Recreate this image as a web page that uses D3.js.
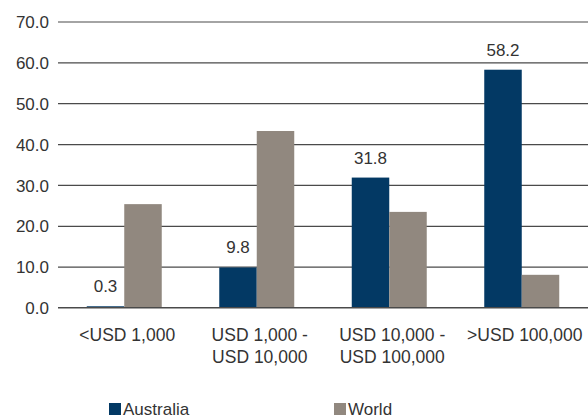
<!DOCTYPE html>
<meta charset="utf-8">
<style>
  body { margin: 0; background: #fff; }
  text { font-family: "Liberation Sans", Arial, sans-serif; fill: #333; }
  .grid line { stroke: #4a4a4a; stroke-width: 1.2; }
</style>
<svg width="588" height="416"></svg>
<script src="https://d3js.org/d3.v7.min.js"></script>
<script>
var categories = [["<USD 1,000"], ["USD 1,000 -", "USD 10,000"], ["USD 10,000 -", "USD 100,000"], [">USD 100,000"]];
var australia = [0.3, 9.8, 31.8, 58.2];
var world = [25.3, 43.2, 23.4, 8.0];
var ticks = [0, 10, 20, 30, 40, 50, 60, 70];
var seriesNames = ["Australia", "World"];
var colors = ["#033964", "#91887f"];

var svg = d3.select("svg");
var plotLeft = 58, plotRight = 588, plotTop = 21.5, plotBottom = 307.5;

var x = d3.scaleBand()
    .domain(d3.range(categories.length))
    .range([plotLeft, plotRight])
    .paddingInner(0.434)
    .paddingOuter(0.217);

var y = d3.scaleLinear().domain([0, 70]).range([plotBottom, plotTop]);

// gridlines + tick labels
var yAxis = svg.append("g")
    .attr("class", "grid")
    .attr("transform", "translate(" + plotLeft + ",0)")
    .call(d3.axisLeft(y).tickValues(ticks).tickSize(-(plotRight - plotLeft)).tickPadding(9)
      .tickFormat(function(d) { return d3.format(".1f")(d); }));
yAxis.select(".domain").remove();
yAxis.selectAll("text").attr("font-size", 17).attr("fill", "#333")
    .attr("font-family", "Liberation Sans, Arial, sans-serif")
    .attr("dy", "0.36em");

var bw = x.bandwidth() / 2;

svg.append("g").selectAll("rect")
    .data(australia)
    .enter()
    .append("rect")
    .attr("x", function(d, i) { return x(i); })
    .attr("y", function(d) { return y(d); })
    .attr("width", bw)
    .attr("height", function(d) { return y(0) - y(d); })
    .attr("fill", colors[0]);

svg.append("g").selectAll("rect")
    .data(world)
    .enter()
    .append("rect")
    .attr("x", function(d, i) { return x(i) + bw; })
    .attr("y", function(d) { return y(d); })
    .attr("width", bw)
    .attr("height", function(d) { return y(0) - y(d); })
    .attr("fill", colors[1]);

// baseline drawn over the bars
svg.append("line")
    .attr("x1", plotLeft).attr("x2", plotRight)
    .attr("y1", y(0)).attr("y2", y(0))
    .attr("stroke", "#4a4a4a").attr("stroke-width", 1.2);

// value labels on the Australia bars
svg.append("g").selectAll("text")
    .data(australia)
    .enter()
    .append("text")
    .attr("x", function(d, i) { return x(i) + bw / 2; })
    .attr("y", function(d) { return y(d) - 14; })
    .attr("text-anchor", "middle")
    .attr("font-size", 17)
    .text(function(d) { return d3.format(".1f")(d); });

// category labels
var cat = svg.append("g").selectAll("text")
    .data(categories)
    .enter()
    .append("text")
    .attr("text-anchor", "middle")
    .attr("font-size", 17.5)
    .attr("transform", function(d, i) { return "translate(" + (x(i) + x.bandwidth() / 2 + 3) + ",341)"; });
cat.selectAll("tspan")
    .data(function(d) { return d; })
    .enter()
    .append("tspan")
    .attr("x", 0)
    .attr("y", function(d, i) { return i * 22; })
    .text(function(d) { return d; });

// legend
var legendX = [109, 334];
var legend = svg.selectAll(".legend")
    .data(seriesNames)
    .enter()
    .append("g")
    .attr("class", "legend")
    .attr("transform", function(d, i) { return "translate(" + legendX[i] + ",403)"; });

legend.append("rect")
    .attr("width", 12)
    .attr("height", 12)
    .attr("fill", function(d, i) { return colors[i]; });

legend.append("text")
    .attr("x", 14)
    .attr("y", 12)
    .attr("font-size", 17)
    .text(function(d) { return d; });
</script>
